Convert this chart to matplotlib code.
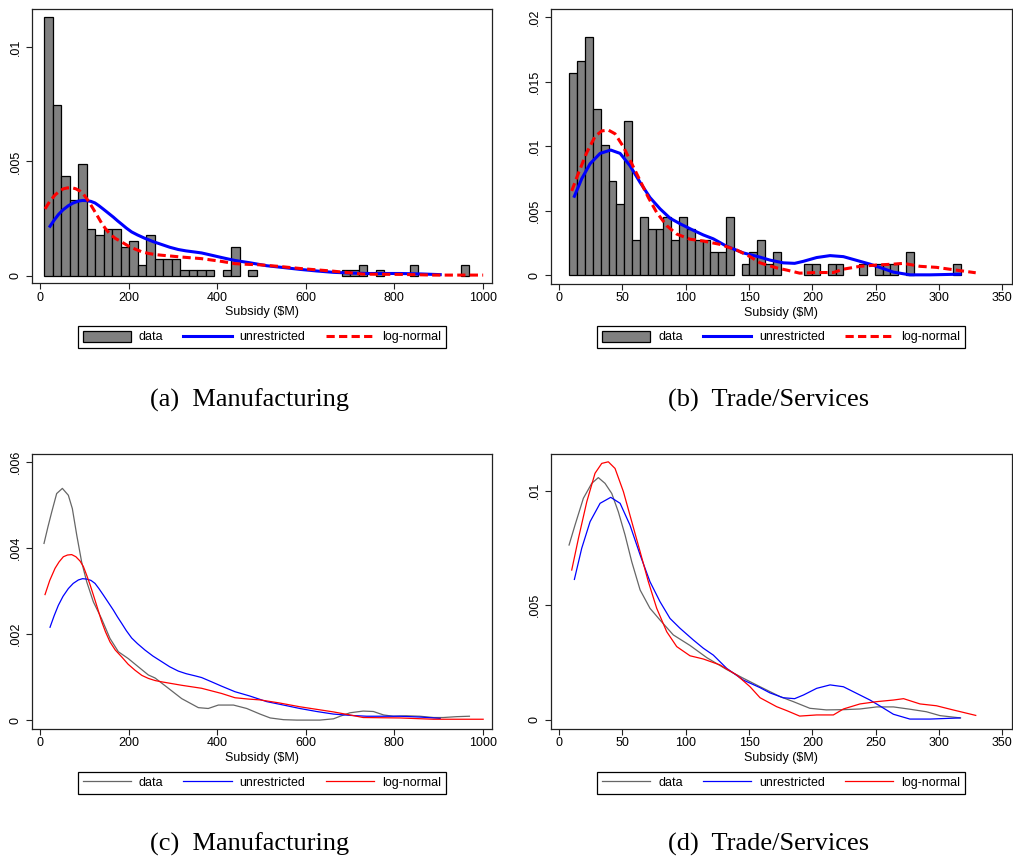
import numpy as np
import matplotlib
matplotlib.use("Agg")
import matplotlib.pyplot as plt
from matplotlib.ticker import FuncFormatter, FixedLocator
from matplotlib.patches import Patch
from matplotlib.lines import Line2D

plt.rcParams["font.family"] = ["Liberation Sans", "DejaVu Sans"]

# ---------------------------------------------------------------------------
# Histogram of observed subsidies (density per bin, 50 equal-width bins)
# ---------------------------------------------------------------------------
mfg_bin_start = 9.8
mfg_bin_width = 19.2
mfg_hist_density = [
    0.01132, 0.00746, 0.00437, 0.00332, 0.00487, 0.00204, 0.00179, 0.00204,
    0.00204, 0.00126, 0.00152, 0.00048, 0.00179, 0.00074, 0.00074, 0.00074,
    0.00023, 0.00023, 0.00023, 0.00023, 0.0, 0.00023, 0.00126, 0.0,
    0.00023, 0.0, 0.0, 0.0, 0.0, 0.0, 0.0, 0.0,
    0.0, 0.0, 0.0, 0.00023, 0.00023, 0.00048, 0.0, 0.00023,
    0.0, 0.0, 0.0, 0.00048, 0.0, 0.0, 0.0, 0.0,
    0.0, 0.00048,
]

trade_bin_start = 8.2
trade_bin_width = 6.18
trade_hist_density = [
    0.01571, 0.01664, 0.01850, 0.01292, 0.01013, 0.00734, 0.00550, 0.01199,
    0.00271, 0.00455, 0.00362, 0.00362, 0.00455, 0.00271, 0.00455, 0.00362,
    0.00271, 0.00271, 0.00178, 0.00178, 0.00455, 0.0, 0.00089, 0.00178,
    0.00271, 0.00089, 0.00178, 0.0, 0.0, 0.0, 0.00089, 0.00089,
    0.0, 0.00089, 0.00089, 0.0, 0.0, 0.00089, 0.0, 0.00089,
    0.00089, 0.00089, 0.0, 0.00178, 0.0, 0.0, 0.0, 0.0,
    0.0, 0.00089,
]

# ---------------------------------------------------------------------------
# Manufacturing densities
# ---------------------------------------------------------------------------
mfg_data_x = [9, 18, 26.4, 37.6, 50.5, 64, 73, 83, 94, 105.4, 120.5, 139, 158,
              177, 199.5, 222, 244.7, 259.8, 290, 320, 357.6, 380, 402.8, 437,
              467, 497, 520, 550, 580, 632, 663, 678, 700, 730, 753, 776, 798,
              828, 858, 889, 911, 941, 970]
mfg_data_y = [0.00411, 0.00450, 0.00484, 0.00527, 0.00539, 0.00523, 0.00492,
              0.00430, 0.00368, 0.00322, 0.00275, 0.00236, 0.00190, 0.00159,
              0.00143, 0.00124, 0.00105, 0.00098, 0.00074, 0.00050, 0.00029,
              0.00027, 0.00035, 0.00035, 0.00027, 0.00014, 0.00005, 0.00001,
              0.0, 0.0, 0.00003, 0.00009, 0.00017, 0.00021, 0.00020, 0.00012,
              0.00009, 0.00010, 0.00009, 0.00006, 0.00006, 0.00008, 0.00009]

mfg_unres_x = [22.6, 32, 41.4, 52, 64, 75, 86.6, 96, 105.4, 115, 124.2, 133,
               143, 154, 165.6, 175, 184.5, 195, 207, 220, 237, 255, 274.8,
               293, 312.4, 330, 350, 365, 387.7, 410, 440.5, 474, 512, 550,
               587, 625, 663, 700, 738, 775, 813, 860, 904]
mfg_unres_y = [0.00216, 0.00243, 0.00267, 0.00288, 0.00306, 0.00318, 0.00326,
               0.00329, 0.00328, 0.00325, 0.00318, 0.00306, 0.00291, 0.00274,
               0.00256, 0.00240, 0.00225, 0.00208, 0.00191, 0.00178, 0.00163,
               0.00149, 0.00136, 0.00124, 0.00114, 0.00108, 0.00103, 0.00099,
               0.00089, 0.00079, 0.00066, 0.00056, 0.00043, 0.00035, 0.00027,
               0.00020, 0.00014, 0.00011, 0.00009, 0.00009, 0.00009, 0.00007,
               0.00004]

mfg_lognorm_x = [11.3, 22, 33.9, 43, 52.7, 62, 71.5, 81, 90.4, 98, 105.4, 113,
                 120.5, 130, 139.3, 148, 158, 170, 184.5, 199, 214.6, 230,
                 244.7, 260, 274.8, 320, 365, 410, 440.5, 470, 497, 540, 587,
                 663, 700, 730, 813, 889, 950, 1001]
mfg_lognorm_y = [0.00292, 0.00325, 0.00353, 0.00368, 0.00380, 0.00384, 0.00385,
                 0.00380, 0.00370, 0.00357, 0.00337, 0.00315, 0.00291, 0.00260,
                 0.00229, 0.00205, 0.00182, 0.00163, 0.00147, 0.00130, 0.00116,
                 0.00104, 0.00097, 0.00092, 0.00089, 0.00081, 0.00074, 0.00062,
                 0.00052, 0.00049, 0.00047, 0.00040, 0.00031, 0.00019, 0.00012,
                 0.00006, 0.00005, 0.00002, 0.00002, 0.00002]

# ---------------------------------------------------------------------------
# Trade/Services densities
# ---------------------------------------------------------------------------
trade_data_x = [7.9, 12.6, 19.2, 25.8, 31, 36.3, 41.6, 46.8, 52.1, 57.4, 64,
                71.8, 79.7, 90.2, 103.4, 116.6, 132.4, 145.5, 158.7, 174.5,
                185, 198, 211, 224.5, 237.6, 250.8, 264, 277, 290, 300.8, 317]
trade_data_y = [0.00763, 0.00850, 0.00967, 0.01032, 0.01057, 0.01032, 0.00988,
                0.00908, 0.00807, 0.00690, 0.00567, 0.00487, 0.00436, 0.00371,
                0.00325, 0.00272, 0.00220, 0.00182, 0.00145, 0.00102, 0.00080,
                0.00051, 0.00044, 0.00045, 0.00048, 0.00057, 0.00057, 0.00047,
                0.00036, 0.00019, 0.00009]

trade_unres_x = [12.1, 17.9, 24.5, 32.4, 40.8, 48.2, 56, 64, 71.8, 79.7, 87.6,
                 95.5, 106, 113.9, 121.8, 132.4, 145.5, 158.7, 166.6, 177, 186,
                 193, 203.4, 214, 224.5, 235, 245.5, 253.4, 264, 277, 293,
                 316.6]
trade_unres_y = [0.00613, 0.00749, 0.00865, 0.00945, 0.00971, 0.00945, 0.00850,
                 0.00720, 0.00603, 0.00516, 0.00443, 0.00400, 0.00349, 0.00313,
                 0.00283, 0.00225, 0.00174, 0.00141, 0.00118, 0.00097, 0.00093,
                 0.00109, 0.00138, 0.00153, 0.00145, 0.00116, 0.00087, 0.00061,
                 0.00025, 0.00004, 0.00004, 0.00009]

trade_lognorm_x = [10, 15.3, 21.9, 28.4, 33.7, 38.9, 44.2, 50.8, 57.4, 64, 70.5,
                   77.1, 85, 92.9, 103.4, 113.9, 127.1, 140.3, 150.8, 158.7,
                   171.8, 179.7, 190, 203.4, 216.6, 224.5, 237.6, 250.8, 264,
                   272, 285, 298, 311, 329]
trade_lognorm_y = [0.00654, 0.00792, 0.00952, 0.01076, 0.01119, 0.01126,
                   0.01097, 0.00996, 0.00865, 0.00734, 0.00603, 0.00487,
                   0.00385, 0.00320, 0.00280, 0.00266, 0.00240, 0.00196,
                   0.00145, 0.00097, 0.00058, 0.00041, 0.00017, 0.00022,
                   0.00022, 0.00048, 0.00070, 0.00080, 0.00087, 0.00093,
                   0.00070, 0.00062, 0.00044, 0.00020]

legend_labels = ["data", "unrestricted", "log-normal"]
captions = ["(a)  Manufacturing", "(b)  Trade/Services",
            "(c)  Manufacturing", "(d)  Trade/Services"]

mfg_xticks = [0, 200, 400, 600, 800, 1000]
trade_xticks = [0, 50, 100, 150, 200, 250, 300, 350]

# ---------------------------------------------------------------------------
# Styling
# ---------------------------------------------------------------------------
BAR_FILL = "#808080"
DATA_LINE = "#666666"
BLUE = "#0000ff"
RED = "#ff0000"
TICK_FS = 9

W, H = 1013, 858
fig = plt.figure(figsize=(W / 100, H / 100), dpi=100)


def px_axes(left, top, right, bottom):
    return fig.add_axes([left / W, 1 - bottom / H, (right - left) / W,
                         (bottom - top) / H])


def stata_fmt(v, _pos=None):
    if abs(v) < 1e-12:
        return "0"
    s = f"{v:g}"
    return s[1:] if s.startswith("0.") else s


def style_axes(ax, xlim, ylim, xticks, yticks):
    ax.set_xlim(*xlim)
    ax.set_ylim(*ylim)
    ax.xaxis.set_major_locator(FixedLocator(xticks))
    ax.yaxis.set_major_locator(FixedLocator(yticks))
    ax.yaxis.set_major_formatter(FuncFormatter(stata_fmt))
    ax.tick_params(axis="both", direction="out", length=4, width=0.8,
                   labelsize=TICK_FS, color="#222222")
    ax.tick_params(axis="x", pad=2)
    ax.tick_params(axis="y", pad=3, labelrotation=90)
    for lab in ax.get_yticklabels():
        lab.set_verticalalignment("center")
    for sp in ax.spines.values():
        sp.set_linewidth(0.9)
        sp.set_color("#222222")
    ax.set_xlabel("Subsidy (\\$M)", fontsize=TICK_FS, labelpad=2)


def add_legend(ax, handles, cx, top_px):
    leg = ax.legend(handles, legend_labels, ncol=3, loc="upper center",
                    bbox_to_anchor=(cx / W, 1 - top_px / H),
                    bbox_transform=fig.transFigure, fontsize=TICK_FS,
                    frameon=True, fancybox=False, framealpha=1,
                    edgecolor="black", handlelength=3.85, handleheight=0.95,
                    handletextpad=0.65, columnspacing=1.6, borderpad=0.38,
                    borderaxespad=0)
    leg.get_frame().set_linewidth(0.9)


def draw_hist(ax, start, width, dens):
    dens = np.asarray(dens)
    lefts = start + width * np.arange(len(dens))
    keep = dens > 0
    ax.bar(lefts[keep], dens[keep], width=width, align="edge",
           color=BAR_FILL, edgecolor="black", linewidth=0.9, zorder=2)


# panel geometry in pixels (left, top, right, bottom)
geo = {
    "a": (31.7, 9, 491.7, 283.3),
    "b": (550.7, 9, 1011.7, 284),
    "c": (31.7, 454, 491.7, 728.7),
    "d": (550.7, 454, 1011.7, 728.7),
}

hist_handles = [Patch(facecolor=BAR_FILL, edgecolor="black", linewidth=0.9),
                Line2D([], [], color=BLUE, lw=2.2),
                Line2D([], [], color=RED, lw=2.2, ls=(0, (2.7, 1.4)))]
kde_handles = [Line2D([], [], color=DATA_LINE, lw=0.9),
               Line2D([], [], color=BLUE, lw=0.9),
               Line2D([], [], color=RED, lw=0.9)]

# (a) Manufacturing: histogram with fitted densities
ax = px_axes(*geo["a"])
draw_hist(ax, mfg_bin_start, mfg_bin_width, mfg_hist_density)
ax.plot(mfg_unres_x, mfg_unres_y, color=BLUE, lw=2.2, zorder=3)
ax.plot(mfg_lognorm_x, mfg_lognorm_y, color=RED, lw=2.2,
        ls=(0, (2.7, 1.4)), zorder=4)
style_axes(ax, (-18.8, 1020.3), (-0.00034, 0.01168), mfg_xticks,
           [0, 0.005, 0.01])
add_legend(ax, hist_handles, 261.7, 326)

# (b) Trade/Services: histogram with fitted densities
ax = px_axes(*geo["b"])
draw_hist(ax, trade_bin_start, trade_bin_width, trade_hist_density)
ax.plot(trade_unres_x, trade_unres_y, color=BLUE, lw=2.2, zorder=3)
ax.plot(trade_lognorm_x, trade_lognorm_y, color=RED, lw=2.2,
        ls=(0, (2.7, 1.4)), zorder=4)
style_axes(ax, (-6.6, 357.4), (-0.00067, 0.02064), trade_xticks,
           [0, 0.005, 0.01, 0.015, 0.02])
add_legend(ax, hist_handles, 781.2, 326)

# (c) Manufacturing: kernel density of data vs fitted densities
ax = px_axes(*geo["c"])
ax.plot(mfg_data_x, mfg_data_y, color=DATA_LINE, lw=0.9)
ax.plot(mfg_unres_x, mfg_unres_y, color=BLUE, lw=0.9)
ax.plot(mfg_lognorm_x, mfg_lognorm_y, color=RED, lw=0.9)
style_axes(ax, (-18.8, 1020.3), (-0.0002, 0.00619), mfg_xticks,
           [0, 0.002, 0.004, 0.006])
add_legend(ax, kde_handles, 261.7, 771.7)

# (d) Trade/Services: kernel density of data vs fitted densities
ax = px_axes(*geo["d"])
ax.plot(trade_data_x, trade_data_y, color=DATA_LINE, lw=0.9)
ax.plot(trade_unres_x, trade_unres_y, color=BLUE, lw=0.9)
ax.plot(trade_lognorm_x, trade_lognorm_y, color=RED, lw=0.9)
style_axes(ax, (-6.6, 357.4), (-0.00038, 0.0116), trade_xticks,
           [0, 0.005, 0.01])
add_legend(ax, kde_handles, 781.2, 771.7)

# sub-figure captions
cap_pos = [(249.5, 406.5), (768.5, 406.5), (249.5, 851), (768.5, 851)]
for text, (cx, by) in zip(captions, cap_pos):
    fig.text(cx / W, 1 - by / H, text, ha="center", va="baseline",
             fontsize=19, family=["Liberation Serif", "DejaVu Serif"])

fig.savefig("out.png", dpi=100, facecolor="white")
